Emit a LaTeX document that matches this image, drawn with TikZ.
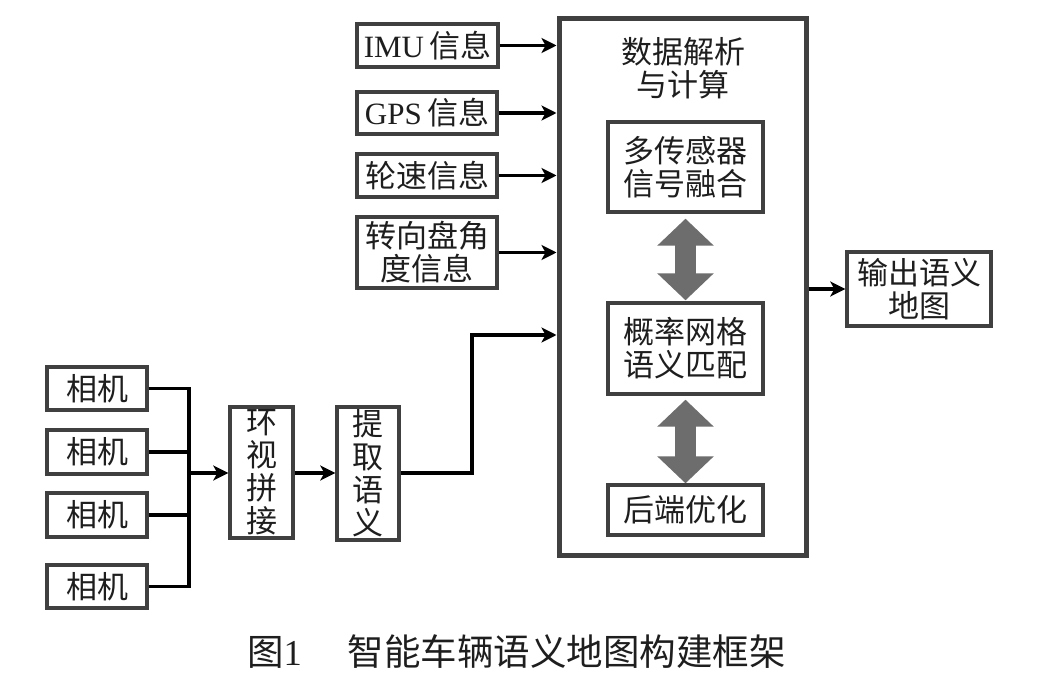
\documentclass[tikz,border=0pt]{standalone}
\usepackage{fontspec}
\setmainfont{Liberation Serif}
\newfontfamily\cjk{Noto Sans CJK SC}
\usetikzlibrary{arrows.meta,calc}
\definecolor{boxc}{HTML}{404040}
\definecolor{txtc}{HTML}{1E1E1E}
\definecolor{dblc}{HTML}{6D6D6D}
\begin{document}
\begin{tikzpicture}[x=1pt,y=-1pt,
  box/.style={draw=boxc, line width=3.4pt, inner sep=0pt, align=center, text=txtc,
    font=\cjk\fontsize{31}{33}\selectfont},
  bigbox/.style={draw=boxc, line width=5pt, inner sep=0pt},
  arr/.style={line width=3.2pt, draw=black, -{Stealth[length=15pt,width=15pt,inset=4pt]}},
  wire/.style={line width=3.2pt, draw=black},
  dbl/.style={line width=21pt, draw=dblc,
    {Triangle[length=27pt,width=55pt]}-{Triangle[length=27pt,width=55pt]}}]
\useasboundingbox (0,0) rectangle (1041,676);
\fill[white] (0,0) rectangle (1041,676);

% inputs
\node[box, minimum width=141pt, minimum height=43pt] (imu) at (427.5,45.5) {{\rmfamily IMU}\,信息};
\node[box, minimum width=140pt, minimum height=42pt] (gps) at (427,113) {{\rmfamily GPS}\,信息};
\node[box, minimum width=140pt, minimum height=43pt] (wheel) at (427,175.5) {轮速信息};
\node[box, minimum width=140pt, minimum height=71pt] (steer) at (427,252.5) {转向盘角\\度信息};

% big box
\node[bigbox, minimum width=247pt, minimum height=536pt] (big) at (682.5,287) {};
\node[text=txtc, align=center, inner sep=0pt, font=\cjk\fontsize{31}{33}\selectfont] (title) at (683,68) {数据解析\\与计算};
\node[box, minimum width=155pt, minimum height=90pt] (fusion) at (685.5,167) {多传感器\\信号融合};
\node[box, minimum width=155pt, minimum height=91pt] (match) at (685.5,348.5) {概率网格\\语义匹配};
\node[box, minimum width=155pt, minimum height=50pt] (backend) at (685.5,510) {后端优化};

% output
\node[box, minimum width=144pt, minimum height=74pt] (out) at (919,289) {输出语义\\地图};

% cameras
\node[box, minimum width=100pt, minimum height=43pt] (c1) at (97,388.5) {相机};
\node[box, minimum width=100pt, minimum height=44pt] (c2) at (97,452) {相机};
\node[box, minimum width=100pt, minimum height=44pt] (c3) at (97,515) {相机};
\node[box, minimum width=100pt, minimum height=43pt] (c4) at (97,586.5) {相机};
\node[box, minimum width=63pt, minimum height=131pt] (stitch) at (261.5,472.5) {环\\视\\拼\\接};
\node[box, minimum width=62pt, minimum height=133pt] (extract) at (368,473.5) {提\\取\\语\\义};

\coordinate (bus1) at (189,388.5);
\coordinate (bus4) at (189,586.5);
\coordinate (busm) at (189,473);
\coordinate (turn1) at (472,473);
\coordinate (turn2) at (472,335);

% input arrows
\draw[arr] (imu.east) -- (imu.east -| big.west);
\draw[arr] (gps.east) -- (gps.east -| big.west);
\draw[arr] (wheel.east) -- (wheel.east -| big.west);
\draw[arr] (steer.east) -- (steer.east -| big.west);

% camera wiring
\draw[wire] (c1.east) -- (bus1);
\draw[wire] (c2.east) -- (c2.east -| bus1);
\draw[wire] (c3.east) -- (c3.east -| bus1);
\draw[wire] (c4.east) -- (bus4);
\draw[wire, line cap=rect] (bus1) -- (bus4);
\draw[arr] (busm) -- (stitch.west |- busm);
\draw[arr] (stitch.east |- busm) -- (extract.west |- busm);
\draw[arr, line join=miter] (extract.east |- turn1) -- (turn1) -- (turn2) -- (turn2 -| big.west);

% output arrow
\draw[arr] (big.east |- out.west) -- (out.west);

% double arrows
\draw[dbl, shorten <=5pt, shorten >=1pt] (fusion.south) -- (match.north);
\draw[dbl, shorten <=4pt, shorten >=0pt] (match.south) -- (backend.north);

% caption
\node[anchor=west, inner sep=0pt, text=txtc, font=\cjk\fontsize{36.5}{38}\selectfont] (cap) at (247,652)
  {图{\rmfamily 1}\hspace{46pt}智能车辆语义地图构建框架};
\end{tikzpicture}
\end{document}
